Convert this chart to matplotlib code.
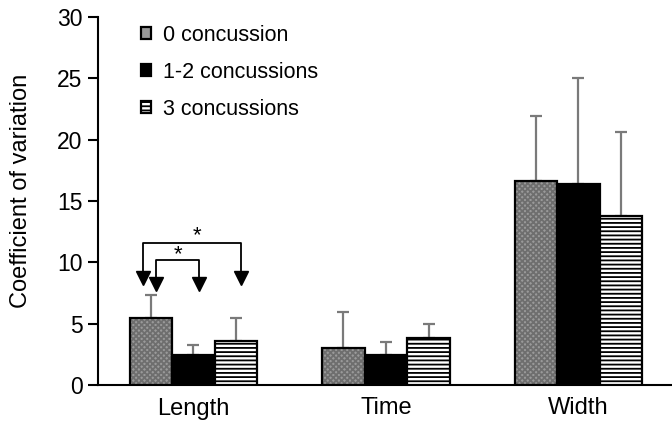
import matplotlib
matplotlib.use("Agg")
import matplotlib.pyplot as plt
import numpy as np

plt.rcParams['font.family'] = ['Liberation Sans', 'DejaVu Sans']
plt.rcParams['hatch.linewidth'] = 1.3

categories = ['Length', 'Time', 'Width']
series_names = ['0 concussion', '1-2 concussions', '3 concussions']
zero_vals = [5.5, 3.0, 16.65]
zero_err = [1.8, 2.95, 5.25]
onetwo_vals = [2.47, 2.47, 16.35]
onetwo_err = [0.83, 1.06, 8.65]
three_vals = [3.6, 3.8, 13.77]
three_err = [1.9, 1.15, 6.83]
yticks = [0, 5, 10, 15, 20, 25, 30]

fig = plt.figure(figsize=(6.72, 4.21), dpi=100)
ax = fig.add_axes([98/672, 36/421, 574/672, 368/421])

x = np.arange(len(categories))
w = 0.221
offs = [-w, 0.0, w]
vals = [zero_vals, onetwo_vals, three_vals]
errs = [zero_err, onetwo_err, three_err]

# gray hatched bars
ax.bar(x + offs[0], zero_vals, w, color='#9a9a9a', edgecolor='#6e6e6e', hatch='xxxxxx', linewidth=0, zorder=2)
b0 = ax.bar(x + offs[0], zero_vals, w, facecolor='none', edgecolor='black', linewidth=1.6, zorder=3, label=series_names[0])
b1 = ax.bar(x + offs[1], onetwo_vals, w, color='black', edgecolor='black', linewidth=1.6, zorder=3, label=series_names[1])
b2 = ax.bar(x + offs[2], three_vals, w, color='white', edgecolor='black', hatch='----', linewidth=1.6, zorder=3, label=series_names[2])

for o, v, e in zip(offs, vals, errs):
    ax.errorbar(x + o, v, yerr=[np.zeros(len(v)), e], fmt='none', ecolor='#7a7a7a',
                elinewidth=1.6, capsize=4, capthick=1.6, zorder=1)

# significance brackets (Length group)
outer = (-0.262, 0.245, 11.6, 8.3)
inner = (-0.195, 0.029, 10.2, 7.8)
head_h = 0.45
for xl, xr, top, tip in (outer, inner):
    ax.plot([xl, xl, xr, xr], [tip + head_h, top, top, tip + head_h], color='black', lw=1.3, zorder=4)
    ax.plot([xl, xr], [tip + head_h, tip + head_h], linestyle='none', marker='v', ms=9.5, color='black', zorder=4)
ax.text(0.018, 12.2, '*', ha='center', va='center', fontsize=16)
ax.text(-0.08, 10.6, '*', ha='center', va='center', fontsize=16)

ax.set_xlim(-0.496, 2.486)
ax.set_ylim(0, 30)
ax.set_yticks(yticks)
ax.set_xticks(x)
ax.set_xticklabels(categories, fontsize=17)
ax.tick_params(axis='x', length=0, pad=9)
ax.tick_params(axis='y', labelsize=16.5, length=7, width=1.5, pad=4)
for s in ['top', 'right']:
    ax.spines[s].set_visible(False)
for s in ['left', 'bottom']:
    ax.spines[s].set_linewidth(1.5)
ax.set_ylabel('Coefficient of variation', fontsize=17)
ax.yaxis.set_label_coords(-0.115, 0.527)

leg = ax.legend(handles=[b0, b1, b2], loc='upper left', bbox_to_anchor=(141/672, 1 - 25/421),
                bbox_transform=fig.transFigure, frameon=False, fontsize=15.5,
                handlelength=0.48, handleheight=0.48, handletextpad=0.55, labelspacing=0.74,
                borderpad=0, borderaxespad=0)
leg.legend_handles[0].set_facecolor('#9a9a9a')

fig.savefig('out.png', dpi=100)
